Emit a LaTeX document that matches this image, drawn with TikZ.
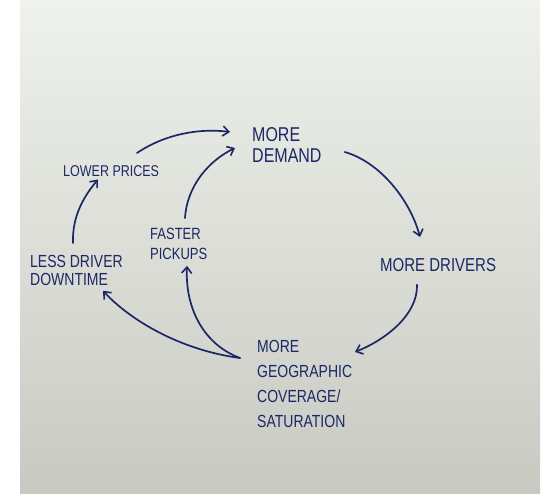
\documentclass[tikz,border=0pt]{standalone}
\usepackage{fontspec}
\setmainfont{Liberation Sans}
\usetikzlibrary{arrows.meta,calc}
\definecolor{ink}{HTML}{1C2766}
\definecolor{papertop}{HTML}{EFF2EC}
\definecolor{papermid}{HTML}{DDDFD7}
\definecolor{paperbot}{HTML}{C8CAC2}
\newcommand{\hw}[1]{\scalebox{1}[1.25]{#1}}
\tikzset{
  lbl/.style={anchor=north west, inner sep=0pt, text=ink, align=left},
  flow/.style={draw=ink, line width=1.7pt, line cap=round,
    -{Straight Barb[length=6pt,width=10pt,line width=1.6pt]}}
}
\begin{document}
\begin{tikzpicture}[x=1pt,y=-1pt]
\useasboundingbox (0,0) rectangle (548,493);
\fill[white] (0,0) rectangle (548,493);
\shade[top color=papertop, middle color=papermid, bottom color=paperbot] (20,0) rectangle (540,493);

\node[lbl, font=\fontsize{16}{21}\selectfont] (md) at (252,127) {\hw{MORE}\\\hw{DEMAND}};
\node[lbl, font=\fontsize{12.5}{18}\selectfont] (lp) at (63,165) {\hw{LOWER PRICES}};
\node[lbl, font=\fontsize{13}{20}\selectfont] (fp) at (150,228) {\hw{FASTER}\\\hw{PICKUPS}};
\node[lbl, font=\fontsize{14}{18}\selectfont] (ldd) at (30,255) {\hw{LESS DRIVER}\\\hw{DOWNTIME}};
\node[lbl, font=\fontsize{15}{20}\selectfont] (mdr) at (380,258) {\hw{MORE DRIVERS}};
\node[lbl, font=\fontsize{14}{25}\selectfont] (geo) at (257,340) {\hw{MORE}\\\hw{GEOGRAPHIC}\\\hw{COVERAGE/}\\\hw{SATURATION}};

% lower prices -> more demand
\draw[flow] ($(lp.north west)+(74,-12)$) .. controls (165,134) and (200,128) .. ($(md.north west)+(-22,5)$);
% faster pickups -> more demand
\draw[flow] ($(fp.north west)+(35,-10)$) .. controls (187,185) and (210,160) .. ($(md.north west)+(-17,21)$);
% less driver downtime -> lower prices
\draw[flow] ($(ldd.north west)+(43,-12)$) .. controls (72,215) and (85,195) .. ($(lp.south west)+(35,3)$);
% more demand -> more drivers
\draw[flow] ($(md.north east)+(23,25)$) .. controls (380,162) and (410,200) .. ($(mdr.north west)+(40,-21)$);
% more drivers -> more geographic coverage
\draw[flow] ($(mdr.south west)+(37,13)$) .. controls (418,315) and (385,340) .. ($(geo.north west)+(98,12)$);
% geo -> less driver downtime
\draw[flow] ($(geo.north west)+(-17,18)$) .. controls (180,350) and (130,320) .. ($(ldd.south west)+(73,5)$);
% geo -> faster pickups
\draw[flow] ($(geo.north west)+(-17,18)$) .. controls (205,345) and (185,310) .. ($(fp.south west)+(37,6)$);
\end{tikzpicture}
\end{document}
